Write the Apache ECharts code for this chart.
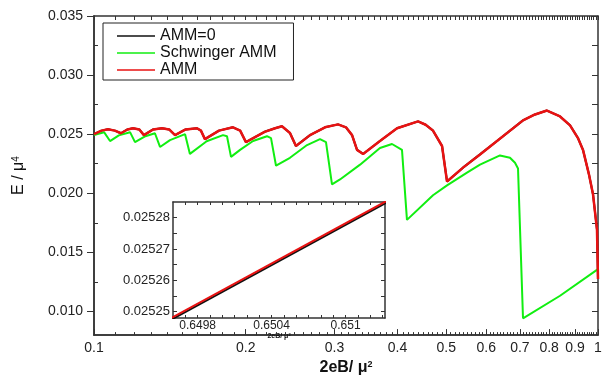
<!DOCTYPE html>
<html>
<head>
<meta charset="utf-8">
<script src="https://cdn.jsdelivr.net/npm/echarts@6/dist/echarts.min.js"></script>
<style>
  html, body { margin: 0; padding: 0; background: #fff; }
  #chart { width: 609px; height: 381px; }
</style>
</head>
<body>
<div id="chart"></div>
<script>
// main panel: x is 2eB/mu^2 (log axis), y is E/mu^4
const xMajor = [0.1, 0.2, 0.3, 0.4, 0.5, 0.6, 0.7, 0.8, 0.9, 1];
const xLabels = ['0.1', '0.2', '0.3', '0.4', '0.5', '0.6', '0.7', '0.8', '0.9', '1'];
const yMajor = [0.010, 0.015, 0.020, 0.025, 0.030, 0.035];
const yLabels = ['0.010', '0.015', '0.020', '0.025', '0.030', '0.035'];
const yMinor = [0.0125, 0.0175, 0.0225, 0.0275, 0.0325];

// AMM (red) and AMM=0 (black) lie on top of each other
const ammX = [0.100, 0.1035, 0.1066, 0.110, 0.1131, 0.1165, 0.1195, 0.123, 0.1256,
  0.131, 0.1364, 0.141, 0.1448, 0.152, 0.1601, 0.163, 0.1660, 0.177, 0.1887, 0.195, 0.2002,
  0.218, 0.2287, 0.236, 0.2448, 0.2516, 0.2683, 0.2873, 0.3049, 0.3162, 0.3251, 0.3326, 0.3419,
  0.3693, 0.3993, 0.4395, 0.455, 0.4706, 0.4904, 0.5017, 0.5397, 0.5833, 0.6304, 0.7099, 0.750,
  0.7921, 0.8408, 0.880, 0.9125, 0.9338, 0.9597, 0.9774, 0.9954, 1.0];
const ammY = [0.0250, 0.0253, 0.02542, 0.0253, 0.02508, 0.0254, 0.0255, 0.0254, 0.02492,
  0.0254, 0.0255, 0.0254, 0.02492, 0.0254, 0.0255, 0.0253, 0.02458, 0.0253, 0.02558, 0.0253, 0.02433,
  0.0252, 0.0255, 0.02567, 0.0251, 0.0240, 0.02492, 0.02558, 0.02583, 0.02558, 0.02492, 0.02367, 0.02333,
  0.02442, 0.0255, 0.02608, 0.0258, 0.0253, 0.0240, 0.0210, 0.02217, 0.02329, 0.02442, 0.02617, 0.02667,
  0.0270, 0.0265, 0.02575, 0.02467, 0.02367, 0.02158, 0.01992, 0.01692, 0.01275];
const amm0Y = ammY;

const schX = [0.100, 0.1047, 0.1076, 0.112, 0.1179, 0.1206, 0.126, 0.1321, 0.1352, 0.1415, 0.1516, 0.1550,
  0.1673, 0.1803, 0.1836, 0.1870, 0.1949, 0.2068, 0.2204, 0.2245, 0.2297, 0.2448, 0.2647, 0.2808, 0.2886,
  0.2966, 0.3077, 0.3372, 0.3693, 0.3902, 0.4084, 0.4178, 0.4706, 0.5017, 0.5497, 0.5833, 0.6391, 0.6689,
  0.6844, 0.6939, 0.7099, 0.8408, 1.0];
const schY = [0.02492, 0.02517, 0.02442, 0.0249, 0.02517, 0.02433, 0.0248, 0.02508, 0.02392, 0.0245, 0.0250, 0.02333,
  0.0244, 0.02492, 0.02483, 0.02308, 0.02367, 0.02442, 0.02483, 0.02467, 0.02233, 0.0230, 0.02408, 0.02458, 0.02433,
  0.02075, 0.02117, 0.02242, 0.02383, 0.02417, 0.02367, 0.01775, 0.01983, 0.02067, 0.02175, 0.02242, 0.0232, 0.0230,
  0.02258, 0.0221, 0.00942, 0.01133, 0.01358];

// inset zoom around 2eB/mu^2 = 0.65
const inXLabels = ['0.6498', '0.6504', '0.651'];
const inXMajor = [0.6498, 0.6504, 0.651];
const inXTicks = [0.6497, 0.6498, 0.6499, 0.6500, 0.6501, 0.6502, 0.6503, 0.6504, 0.6505,
  0.6506, 0.6507, 0.6508, 0.6509, 0.6510, 0.6511, 0.6512, 0.6513];
const inYMajor = [0.02525, 0.02526, 0.02527, 0.02528];
const inYLabels = ['0.02525', '0.02526', '0.02527', '0.02528'];
const inYMinor = [0.025255, 0.025265, 0.025275];
const inAmmX = [0.64955, 0.65135];
const inAmmY = [0.0252472, 0.0252857];
const inAmm0X = [0.64955, 0.65135];
const inAmm0Y = [0.0252467, 0.0252852];

const lg = Math.log10;
const pairs = (xs, ys, f) => xs.map((x, i) => [f ? f(x) : x, ys[i]]);

const xMinor = [];
for (let i = 11; i < 100; i++) if (i % 10) xMinor.push(i / 100);

const font = 'Liberation Sans';
const axisCol = '#333';
const RED = '#e81212', GREEN = '#11ee11', BLACK = '#111';

function tickAxis(extra) {
  return Object.assign({
    type: 'value', splitLine: { show: false },
    axisLine: { show: true, onZero: false, lineStyle: { color: axisCol, width: 1.5 } },
    axisLabel: { show: false },
    axisTick: { show: true, inside: true, length: 3, lineStyle: { color: axisCol } }
  }, extra);
}

const chart = echarts.init(document.getElementById('chart'));
chart.setOption({
  backgroundColor: '#fff',
  animation: false,
  textStyle: { fontFamily: font },
  legend: {
    data: ['AMM=0', 'Schwinger AMM', 'AMM'],
    orient: 'vertical', left: 103, top: 23,
    padding: [5, 17, 2, 14], itemGap: 1,
    itemWidth: 38, itemHeight: 1.5, icon: 'rect',
    borderColor: '#222', borderWidth: 1,
    textStyle: { fontSize: 16, color: '#111', fontFamily: font }
  },
  grid: [
    { left: 94, top: 16, width: 504, height: 324 },
    { left: 173, top: 202, width: 212, height: 116 }
  ],
  xAxis: [
    tickAxis({
      gridIndex: 0, min: -1, max: 0, position: 'bottom',
      name: '2eB/ μ{s|2}', nameLocation: 'middle', nameGap: 18,
      nameTextStyle: { fontSize: 16, fontWeight: 'bold', color: '#111',
        rich: { s: { fontSize: 9, fontWeight: 'bold', verticalAlign: 'top', lineHeight: 9 } } },
      axisLabel: { show: true, margin: 6, fontSize: 14, color: '#222',
        customValues: xMajor.map(lg),
        formatter: v => xLabels[xMajor.findIndex(m => Math.abs(lg(m) - v) < 1e-6)] },
      axisTick: { show: true, inside: true, length: 6, customValues: xMajor.map(lg), lineStyle: { color: axisCol } }
    }),
    tickAxis({ gridIndex: 0, min: -1, max: 0, position: 'bottom',
      axisTick: { show: true, inside: true, length: 3, customValues: xMinor.map(lg), lineStyle: { color: axisCol } } }),
    tickAxis({ gridIndex: 0, min: -1, max: 0, position: 'top',
      axisTick: { show: true, inside: true, length: 4, customValues: xMinor.concat(xMajor).map(lg), lineStyle: { color: axisCol } } }),
    tickAxis({
      gridIndex: 1, min: 0.6496, max: 0.65132, position: 'bottom',
      name: '2eB/ μ{s|2}', nameLocation: 'middle', nameGap: 12,
      nameTextStyle: { fontSize: 7, fontWeight: 'bold', color: '#111',
        rich: { s: { fontSize: 4, verticalAlign: 'top', lineHeight: 4 } } },
      axisLabel: { show: true, margin: 2, fontSize: 12, color: '#222', customValues: inXMajor,
        formatter: v => inXLabels[inXMajor.findIndex(m => Math.abs(m - v) < 1e-7)] },
      axisTick: { show: true, inside: true, length: 3, customValues: inXTicks, lineStyle: { color: axisCol } }
    }),
    tickAxis({ gridIndex: 1, min: 0.6496, max: 0.65132, position: 'top',
      axisTick: { show: true, inside: true, length: 3, customValues: inXTicks, lineStyle: { color: axisCol } } })
  ],
  yAxis: [
    tickAxis({
      gridIndex: 0, min: 0.008, max: 0.035, position: 'left',
      name: 'E / μ{s|4}', nameLocation: 'middle', nameGap: 67,
      nameTextStyle: { fontSize: 16, color: '#111',
        rich: { s: { fontSize: 10, verticalAlign: 'top', lineHeight: 10 } } },
      axisLabel: { show: true, margin: 11, fontSize: 14, color: '#222', customValues: yMajor,
        formatter: v => yLabels[yMajor.findIndex(m => Math.abs(m - v) < 1e-9)] },
      axisTick: { show: true, inside: false, length: 7, customValues: yMajor, lineStyle: { color: axisCol } }
    }),
    tickAxis({ gridIndex: 0, min: 0.008, max: 0.035, position: 'left',
      axisTick: { show: true, inside: true, length: 4, customValues: yMinor, lineStyle: { color: axisCol } } }),
    tickAxis({ gridIndex: 0, min: 0.008, max: 0.035, position: 'right',
      axisTick: { show: true, inside: true, length: 6, customValues: yMajor.concat(yMinor), lineStyle: { color: axisCol } } }),
    tickAxis({
      gridIndex: 1, min: 0.025248, max: 0.025285, position: 'left',
      axisLabel: { show: true, margin: 3, fontSize: 13, color: '#222', customValues: inYMajor,
        formatter: v => inYLabels[inYMajor.findIndex(m => Math.abs(m - v) < 1e-10)] },
      axisTick: { show: true, inside: true, length: 4, customValues: inYMajor.concat(inYMinor), lineStyle: { color: axisCol } }
    }),
    tickAxis({ gridIndex: 1, min: 0.025248, max: 0.025285, position: 'right',
      axisTick: { show: true, inside: true, length: 4, customValues: inYMajor.concat(inYMinor), lineStyle: { color: axisCol } } })
  ],
  series: [
    { name: 'AMM=0', type: 'line', xAxisIndex: 0, yAxisIndex: 0, showSymbol: false,
      data: pairs(ammX, amm0Y, lg), lineStyle: { color: BLACK, width: 2 }, itemStyle: { color: BLACK } },
    { name: 'Schwinger AMM', type: 'line', xAxisIndex: 0, yAxisIndex: 0, showSymbol: false,
      data: pairs(schX, schY, lg), lineStyle: { color: GREEN, width: 2 }, itemStyle: { color: GREEN } },
    { name: 'AMM', type: 'line', xAxisIndex: 0, yAxisIndex: 0, showSymbol: false,
      data: pairs(ammX, ammY, lg), lineStyle: { color: RED, width: 2.5 }, itemStyle: { color: RED } },
    { name: 'AMM=0', type: 'line', xAxisIndex: 3, yAxisIndex: 3, showSymbol: false, clip: true,
      data: pairs(inAmm0X, inAmm0Y), lineStyle: { color: BLACK, width: 2 }, itemStyle: { color: BLACK } },
    { name: 'AMM', type: 'line', xAxisIndex: 3, yAxisIndex: 3, showSymbol: false, clip: true,
      data: pairs(inAmmX, inAmmY), lineStyle: { color: RED, width: 2 }, itemStyle: { color: RED } }
  ]
});
</script>
</body>
</html>
